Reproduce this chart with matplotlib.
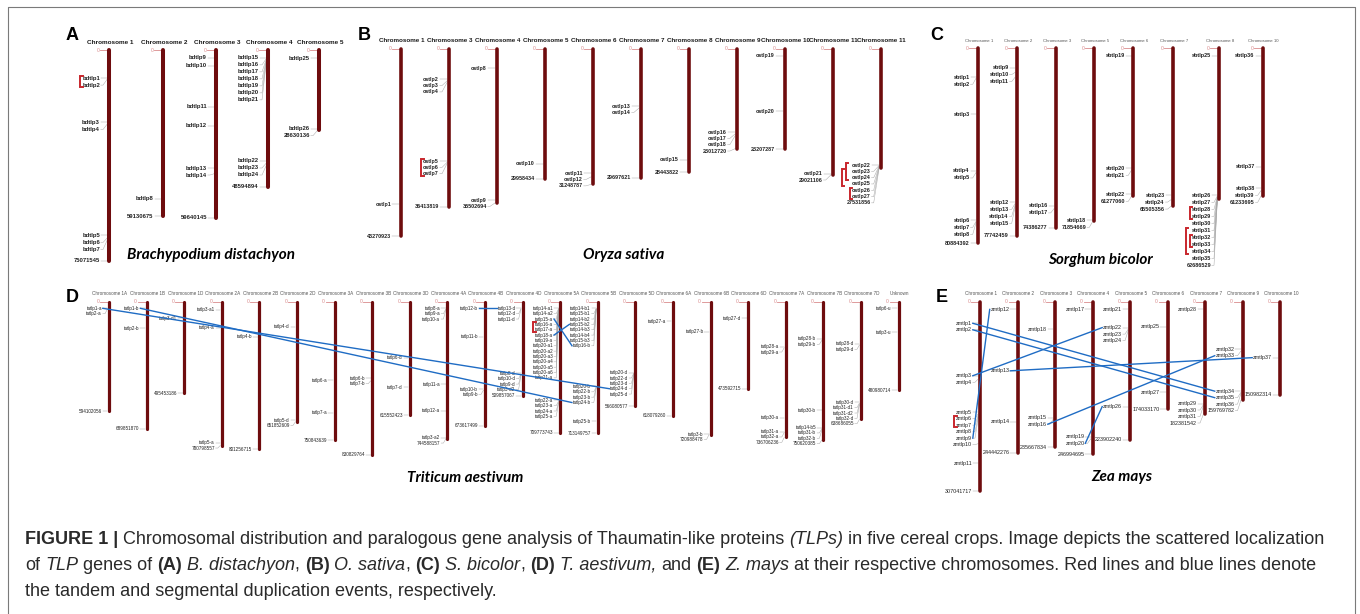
import matplotlib
matplotlib.use('Agg')
import matplotlib.pyplot as plt

# ── Data ──────────────────────────────────────────────────────────────────────
# positions of genes are in Mb along the chromosome
A_CHROMS = ['Chromosome 1', 'Chromosome 2', 'Chromosome 3', 'Chromosome 4', 'Chromosome 5']
A_LENGTHS = [75071545, 59130675, 59640145, 48594894, 28630136]
A_GENES = [
    (0, 'bdtlp1', 10.0), (0, 'bdtlp2', 10.3), (0, 'bdtlp3', 25.8), (0, 'bdtlp4', 26.3),
    (0, 'bdtlp5', 66.0), (0, 'bdtlp6', 66.8), (0, 'bdtlp7', 67.5),
    (1, 'bdtlp8', 52.9),
    (2, 'bdtlp9', 2.8), (2, 'bdtlp10', 5.6), (2, 'bdtlp11', 20.2), (2, 'bdtlp12', 27.0),
    (2, 'bdtlp13', 42.0), (2, 'bdtlp14', 44.0),
    (3, 'bdtlp15', 2.8), (3, 'bdtlp16', 3.0), (3, 'bdtlp17', 3.2), (3, 'bdtlp18', 3.4),
    (3, 'bdtlp19', 3.6), (3, 'bdtlp20', 3.8), (3, 'bdtlp21', 4.0),
    (3, 'bdtlp22', 39.5), (3, 'bdtlp23', 40.2), (3, 'bdtlp24', 41.0),
    (4, 'bdtlp25', 3.0), (4, 'bdtlp26', 28.0),
]
A_TANDEM = [('bdtlp1', 'bdtlp2')]
A_SEGMENT = []

B_CHROMS = ['Chromosome 1', 'Chromosome 3', 'Chromosome 4', 'Chromosome 5', 'Chromosome 6',
            'Chromosome 7', 'Chromosome 8', 'Chromosome 9', 'Chromosome 10', 'Chromosome 11',
            'Chromosome 11']
B_LENGTHS = [43270923, 36413819, 35502694, 29958434, 31248787, 29697621, 28443822,
             23012720, 23207287, 29021106, 27531856]
B_GENES = [
    (0, 'ostlp1', 35.8),
    (1, 'ostlp2', 7.0), (1, 'ostlp3', 7.3), (1, 'ostlp4', 7.6),
    (1, 'ostlp5', 25.9), (1, 'ostlp6', 26.1), (1, 'ostlp7', 26.3),
    (2, 'ostlp8', 4.5), (2, 'ostlp9', 34.9),
    (3, 'ostlp10', 26.5),
    (4, 'ostlp11', 28.7), (4, 'ostlp12', 29.5),
    (5, 'ostlp13', 13.2), (5, 'ostlp14', 13.6),
    (6, 'ostlp15', 25.6),
    (7, 'ostlp16', 19.2), (7, 'ostlp17', 19.6), (7, 'ostlp18', 20.0),
    (8, 'ostlp19', 1.6), (8, 'ostlp20', 14.4),
    (9, 'ostlp21', 28.8),
    (10, 'ostlp22', 26.8), (10, 'ostlp23', 26.9), (10, 'ostlp24', 27.0),
    (10, 'ostlp25', 27.1), (10, 'ostlp26', 27.2), (10, 'ostlp27', 27.3),
]
B_TANDEM = [('ostlp5', 'ostlp7'), ('ostlp22', 'ostlp24'), ('ostlp23', 'ostlp25'),
            ('ostlp26', 'ostlp27')]
B_SEGMENT = []

C_CHROMS = ['Chromosome 1', 'Chromosome 2', 'Chromosome 3', 'Chromosome 5', 'Chromosome 6',
            'Chromosome 7', 'Chromosome 8', 'Chromosome 10']
C_LENGTHS = [80884392, 77742459, 74386277, 71854669, 61277060, 65505356, 62686529, 61233695]
C_GENES = [
    (0, 'sbtlp1', 12.0), (0, 'sbtlp2', 12.4), (0, 'sbtlp3', 27.4), (0, 'sbtlp4', 50.9),
    (0, 'sbtlp5', 51.5), (0, 'sbtlp6', 71.4), (0, 'sbtlp7', 71.8), (0, 'sbtlp8', 72.3),
    (1, 'sbtlp9', 8.0), (1, 'sbtlp10', 10.0), (1, 'sbtlp11', 12.0),
    (1, 'sbtlp12', 63.9), (1, 'sbtlp13', 64.4), (1, 'sbtlp14', 65.0), (1, 'sbtlp15', 65.6),
    (2, 'sbtlp16', 65.4), (2, 'sbtlp17', 66.5),
    (3, 'sbtlp18', 71.4),
    (4, 'sbtlp19', 3.0), (4, 'sbtlp20', 49.8), (4, 'sbtlp21', 50.4), (4, 'sbtlp22', 60.6),
    (5, 'sbtlp23', 60.9), (5, 'sbtlp24', 62.8),
    (6, 'sbtlp25', 3.0), (6, 'sbtlp26', 61.0), (6, 'sbtlp27', 61.2), (6, 'sbtlp28', 61.4),
    (6, 'sbtlp29', 61.6), (6, 'sbtlp30', 61.8), (6, 'sbtlp31', 62.0), (6, 'sbtlp32', 62.1),
    (6, 'sbtlp33', 62.2), (6, 'sbtlp34', 62.3), (6, 'sbtlp35', 62.4),
    (7, 'sbtlp36', 3.0), (7, 'sbtlp37', 49.1), (7, 'sbtlp38', 58.1), (7, 'sbtlp39', 59.0),
]
C_TANDEM = [('sbtlp28', 'sbtlp29'), ('sbtlp32', 'sbtlp33'), ('sbtlp31', 'sbtlp34')]
C_SEGMENT = []

D_CHROMS = ['Chromosome 1A', 'Chromosome 1B', 'Chromosome 1D', 'Chromosome 2A', 'Chromosome 2B',
            'Chromosome 2D', 'Chromosome 3A', 'Chromosome 3B', 'Chromosome 3D', 'Chromosome 4A',
            'Chromosome 4B', 'Chromosome 4D', 'Chromosome 5A', 'Chromosome 5B', 'Chromosome 5D',
            'Chromosome 6A', 'Chromosome 6B', 'Chromosome 6D', 'Chromosome 7A', 'Chromosome 7B',
            'Chromosome 7D', 'Unknown']
D_LENGTHS = [594102056, 689851870, 495453186, 780798557, 801256715, 651852609, 750843639,
             830829764, 615552423, 744588157, 673617499, 509857067, 709773743, 713149757,
             566080577, 618079260, 720988478, 473592715, 736706236, 750620385, 638686055,
             480980714]
D_GENES = [
    (0, 'tatlp1-a', 36), (0, 'tatlp2-a', 40),
    (1, 'tatlp1-b', 36), (1, 'tatlp2-b', 144),
    (2, 'tatlp3-d1', 90),
    (3, 'tatlp3-a1', 45), (3, 'tatlp4-a', 141), (3, 'tatlp5-a', 765),
    (4, 'tatlp4-b', 190),
    (5, 'tatlp4-d', 136), (5, 'tatlp5-d', 642),
    (6, 'tatlp6-a', 425), (6, 'tatlp7-a', 602),
    (7, 'tatlp6-b', 416), (7, 'tatlp7-b', 430),
    (8, 'tatlp6-d', 304), (8, 'tatlp7-d', 465),
    (9, 'tatlp8-a', 36), (9, 'tatlp9-a', 40), (9, 'tatlp10-a', 44), (9, 'tatlp11-a', 448),
    (9, 'tatlp12-a', 593), (9, 'tatlp3-a2', 738),
    (10, 'tatlp12-b', 36), (10, 'tatlp11-b', 190), (10, 'tatlp10-b', 474), (10, 'tatlp9-b', 480),
    (11, 'tatlp13-d', 36), (11, 'tatlp12-d', 38), (11, 'tatlp11-d', 40), (11, 'tatlp8-d', 389),
    (11, 'tatlp10-d', 392), (11, 'tatlp9-d', 395), (11, 'tatlp3-d2', 398),
    (12, 'tatlp14-a1', 36), (12, 'tatlp14-a2', 37), (12, 'tatlp15-a', 38), (12, 'tatlp16-a', 39),
    (12, 'tatlp17-a', 40), (12, 'tatlp18-a', 41), (12, 'tatlp19-a', 42), (12, 'tatlp20-a1', 43),
    (12, 'tatlp20-a2', 44), (12, 'tatlp20-a3', 45), (12, 'tatlp20-a4', 46), (12, 'tatlp20-a5', 47),
    (12, 'tatlp20-a6', 48), (12, 'tatlp21-a', 49),
    (12, 'tatlp22-a', 535), (12, 'tatlp23-a', 540), (12, 'tatlp24-a', 545), (12, 'tatlp25-a', 550),
    (13, 'tatlp14-b1', 36), (13, 'tatlp15-b1', 37), (13, 'tatlp14-b2', 38), (13, 'tatlp15-b2', 39),
    (13, 'tatlp14-b3', 40), (13, 'tatlp14-b4', 41), (13, 'tatlp15-b3', 42), (13, 'tatlp16-b', 43),
    (13, 'tatlp20-b', 460), (13, 'tatlp22-b', 463), (13, 'tatlp23-b', 466), (13, 'tatlp24-b', 469),
    (13, 'tatlp25-b', 650),
    (14, 'tatlp20-d', 385), (14, 'tatlp22-d', 388), (14, 'tatlp23-d', 391), (14, 'tatlp24-d', 394),
    (14, 'tatlp25-d', 397),
    (15, 'tatlp27-a', 105),
    (16, 'tatlp27-b', 163), (16, 'tatlp3-b', 718),
    (17, 'tatlp27-d', 90),
    (18, 'tatlp28-a', 244), (18, 'tatlp29-a', 250), (18, 'tatlp30-a', 629), (18, 'tatlp31-a', 705),
    (18, 'tatlp32-a', 710),
    (19, 'tatlp28-b', 202), (19, 'tatlp29-b', 210), (19, 'tatlp30-b', 588), (19, 'tatlp14-b5', 683),
    (19, 'tatlp31-b', 690), (19, 'tatlp32-b', 697),
    (20, 'tatlp28-d', 229), (20, 'tatlp29-d', 235), (20, 'tatlp30-d', 546), (20, 'tatlp31-d1', 550),
    (20, 'tatlp31-d2', 555), (20, 'tatlp32-d', 560),
    (21, 'tatlp6-u', 36), (21, 'tatlp3-u', 166),
]
D_TANDEM = [('tatlp16-a', 'tatlp17-a')]
D_SEGMENT = [('tatlp1-a', 'tatlp24-d'), ('tatlp1-b', 'tatlp24-b'), ('tatlp12-b', 'tatlp13-d'),
             ('tatlp15-a', 'tatlp16-b'), ('tatlp18-a', 'tatlp15-b2')]

E_CHROMS = ['Chromosome 1', 'Chromosome 2', 'Chromosome 3', 'Chromosome 4', 'Chromosome 5',
            'Chromosome 6', 'Chromosome 7', 'Chromosome 9', 'Chromosome 10']
E_LENGTHS = [307041717, 244442276, 235667834, 246994695, 223902240, 174033170, 182381542,
             159769782, 150982314]
E_GENES = [
    (0, 'zmtlp1', 35), (0, 'zmtlp2', 44.5), (0, 'zmtlp3', 120), (0, 'zmtlp4', 125),
    (0, 'zmtlp5', 179), (0, 'zmtlp6', 181), (0, 'zmtlp7', 183), (0, 'zmtlp8', 185),
    (0, 'zmtlp9', 187), (0, 'zmtlp10', 230), (0, 'zmtlp11', 262),
    (1, 'zmtlp12', 12.5), (1, 'zmtlp13', 112), (1, 'zmtlp14', 194.5),
    (2, 'zmtlp18', 44.5), (2, 'zmtlp15', 188), (2, 'zmtlp16', 190),
    (3, 'zmtlp17', 12.5), (3, 'zmtlp19', 219), (3, 'zmtlp20', 222),
    (4, 'zmtlp21', 12.5), (4, 'zmtlp22', 42), (4, 'zmtlp23', 44), (4, 'zmtlp24', 46),
    (4, 'zmtlp26', 170),
    (5, 'zmtlp25', 40.5), (5, 'zmtlp27', 147),
    (6, 'zmtlp28', 12.5), (6, 'zmtlp29', 165), (6, 'zmtlp30', 167), (6, 'zmtlp31', 169),
    (7, 'zmtlp32', 77), (7, 'zmtlp33', 80), (7, 'zmtlp34', 145), (7, 'zmtlp35', 147),
    (7, 'zmtlp36', 149),
    (8, 'zmtlp37', 90.7),
]
E_TANDEM = [('zmtlp6', 'zmtlp7')]
E_SEGMENT = [('zmtlp1', 'zmtlp34'), ('zmtlp2', 'zmtlp35'), ('zmtlp3', 'zmtlp22'),
             ('zmtlp13', 'zmtlp37'), ('zmtlp9', 'zmtlp12'), ('zmtlp16', 'zmtlp33'),
             ('zmtlp20', 'zmtlp26')]

SPECIES = {'A': 'Brachypodium distachyon', 'B': 'Oryza sativa', 'C': 'Sorghum bicolor',
           'D': 'Triticum aestivum', 'E': 'Zea mays'}

# ── Layout (pixel space of the 1360 x 614 canvas) ─────────────────────────────
LAYOUT = {
    'A': dict(xs=[109, 162.7, 216, 268, 319], top=50, scale=2.81, gap=7, off=9,
              lab=4.2, lab_w='bold', ttl=4.6, ttl_w='bold', ttl_c='#1a1a1a', bar=2.9,
              letter=(72, 36), species=(211, 258.5)),
    'B': dict(xs=[401 + 47.97 * i for i in range(11)], top=49, scale=4.33, gap=6.3, off=10,
              lab=3.9, lab_w='bold', ttl=4.5, ttl_w='bold', ttl_c='#1a1a1a', bar=2.6,
              letter=(364, 36), species=(624, 258.5)),
    'C': dict(xs=[977.7, 1016.7, 1055.7, 1094.3, 1133.3, 1172.7, 1219, 1262.7], top=48.3,
              scale=2.41, gap=7, off=8, lab=4.0, lab_w='bold', ttl=3.1, ttl_w='normal',
              ttl_c='#555555', bar=2.6, letter=(937, 35), species=(1100, 264)),
    'D': dict(xs=[109 + 37.6 * i for i in range(22)], top=301.7, scale=0.1843, gap=5.35,
              off=7, lab=3.3, lab_w='normal', ttl=3.3, ttl_w='normal', ttl_c='#555555',
              bar=2.3, letter=(72, 297), species=(465, 481.5)),
    'E': dict(xs=[980 + 37.5 * i for i in range(9)], top=301.7, scale=0.617, gap=6.5,
              off=8, lab=3.9, lab_w='normal', ttl=3.3, ttl_w='normal', ttl_c='#555555',
              bar=2.6, letter=(942, 298), species=(1121.5, 481)),
}

BAR = '#6e0c0e'
PINK = '#d98a8c'
CONN = '#a8a8a8'
RED = '#c8262c'
BLUE = '#1f6cc4'
TXT = '#222222'
FONT = 'Liberation Sans'

fig = plt.figure(figsize=(13.6, 6.14), dpi=100)
ax = fig.add_axes([0, 0, 1, 1])
ax.set_xlim(0, 1360)
ax.set_ylim(614, 0)
ax.axis('off')
rend = fig.canvas.get_renderer()


def width(t):
    return t.get_window_extent(renderer=rend).width


def draw_panel(key, chroms, lengths, genes, tandem, segment):
    L = LAYOUT[key]
    pos = {}
    for i, (name, length) in enumerate(zip(chroms, lengths)):
        x = L['xs'][i]
        top = L['top']
        bot = top + length / 1e6 * L['scale']
        ax.plot([x, x], [top, bot], color=BAR, lw=L['bar'], solid_capstyle='round', zorder=3)
        ax.text(x + 1, top - 6.5, name, ha='center', va='baseline', fontsize=L['ttl'],
                fontweight=L['ttl_w'], color=L['ttl_c'], family=FONT)
        ax.plot([x - 9, x], [top, top], color=PINK, lw=0.6, zorder=2)
        ax.text(x - 11, top, '0', ha='center', va='center', fontsize=3.6, color=PINK,
                family=FONT)
        items = sorted((top + p * L['scale'], g) for c, g, p in genes if c == i)
        items.append((bot, str(length)))
        prev = -1e9
        xr = x - L['off']
        for gy, g in items:
            ly = max(gy, prev + L['gap'])
            prev = ly
            t = ax.text(xr, ly, g, ha='right', va='center', fontsize=L['lab'],
                        fontweight=L['lab_w'], color=TXT, family=FONT, zorder=4)
            ax.plot([xr + 0.8, xr + 3, x - 1.6], [ly, ly, gy], color=CONN, lw=0.35, zorder=2)
            pos[g] = (xr, xr - width(t), ly)

    drawn = []
    for g1, g2 in tandem:
        y1, y2 = pos[g1][2] - 2.2, pos[g2][2] + 2.2
        depth = sum(1 for a, b in drawn if a < y2 and b > y1)
        xl = min(pos[g1][1], pos[g2][1]) - 2 - 4 * depth
        ax.plot([xl + 2.5, xl, xl, xl + 2.5], [y1, y1, y2, y2], color=RED, lw=1.4,
                solid_joinstyle='miter', zorder=5)
        drawn.append((y1, y2))

    for g1, g2 in segment:
        ax.plot([pos[g1][0] + 0.8, pos[g2][1] - 0.8], [pos[g1][2], pos[g2][2]],
                color=BLUE, lw=1.0, zorder=6)

    lx, ly = L['letter']
    ax.text(lx, ly, key, ha='center', va='center', fontsize=13, fontweight='bold',
            color='black', family=FONT)
    sx, sy = L['species']
    ax.text(sx, sy, SPECIES[key], ha='center', va='baseline', fontsize=11,
            fontweight='bold', fontstyle='italic', color='black', family='Lato')


draw_panel('A', A_CHROMS, A_LENGTHS, A_GENES, A_TANDEM, A_SEGMENT)
draw_panel('B', B_CHROMS, B_LENGTHS, B_GENES, B_TANDEM, B_SEGMENT)
draw_panel('C', C_CHROMS, C_LENGTHS, C_GENES, C_TANDEM, C_SEGMENT)
draw_panel('D', D_CHROMS, D_LENGTHS, D_GENES, D_TANDEM, D_SEGMENT)
draw_panel('E', E_CHROMS, E_LENGTHS, E_GENES, E_TANDEM, E_SEGMENT)

# ── Frame ─────────────────────────────────────────────────────────────────────
ax.plot([8, 8, 1355, 1355], [614, 7, 7, 614], color='#7a7a7a', lw=0.8)

# ── Caption with mixed styles ─────────────────────────────────────────────────
CAP_SIZE = 13.0
CAPTION = [
    [('FIGURE 1 |', 'bold', 'normal'),
     (' Chromosomal distribution and paralogous gene analysis of Thaumatin-like proteins ',
      'normal', 'normal'),
     ('(TLPs)', 'normal', 'italic'),
     (' in five cereal crops. Image depicts the scattered localization', 'normal', 'normal')],
    [('of ', 'normal', 'normal'), ('TLP', 'normal', 'italic'), (' genes of ', 'normal', 'normal'),
     ('(A)', 'bold', 'normal'), (' ', 'normal', 'normal'), ('B. distachyon', 'normal', 'italic'),
     (', ', 'normal', 'normal'), ('(B)', 'bold', 'normal'), (' ', 'normal', 'normal'),
     ('O. sativa', 'normal', 'italic'), (', ', 'normal', 'normal'), ('(C)', 'bold', 'normal'),
     (' ', 'normal', 'normal'), ('S. bicolor', 'normal', 'italic'), (', ', 'normal', 'normal'),
     ('(D)', 'bold', 'normal'), (' ', 'normal', 'normal'), ('T. aestivum,', 'normal', 'italic'),
     (' and ', 'normal', 'normal'), ('(E)', 'bold', 'normal'), (' ', 'normal', 'normal'),
     ('Z. mays', 'normal', 'italic'),
     (' at their respective chromosomes. Red lines and blue lines denote', 'normal', 'normal')],
    [('the tandem and segmental duplication events, respectively.', 'normal', 'normal')],
]


def adv(s, **kw):
    t1 = ax.text(0, 0, '|' + s + '|', **kw)
    t2 = ax.text(0, 0, '||', **kw)
    w = width(t1) - width(t2)
    t1.remove()
    t2.remove()
    return w


for k, line in enumerate(CAPTION):
    x = 25
    y = 543.5 + k * 26.5
    for s, wgt, sty in line:
        kw = dict(fontsize=CAP_SIZE, fontweight=wgt, fontstyle=sty, family=FONT)
        lead = len(s) - len(s.lstrip())
        x0 = x + (adv(' ' * lead, **kw) if lead else 0)
        if s.strip():
            ax.text(x0, y, s.strip(), ha='left', va='baseline', color='#2a2a2a', **kw)
        x += adv(s, **kw)

fig.savefig('out.png', dpi=100, facecolor='white')
